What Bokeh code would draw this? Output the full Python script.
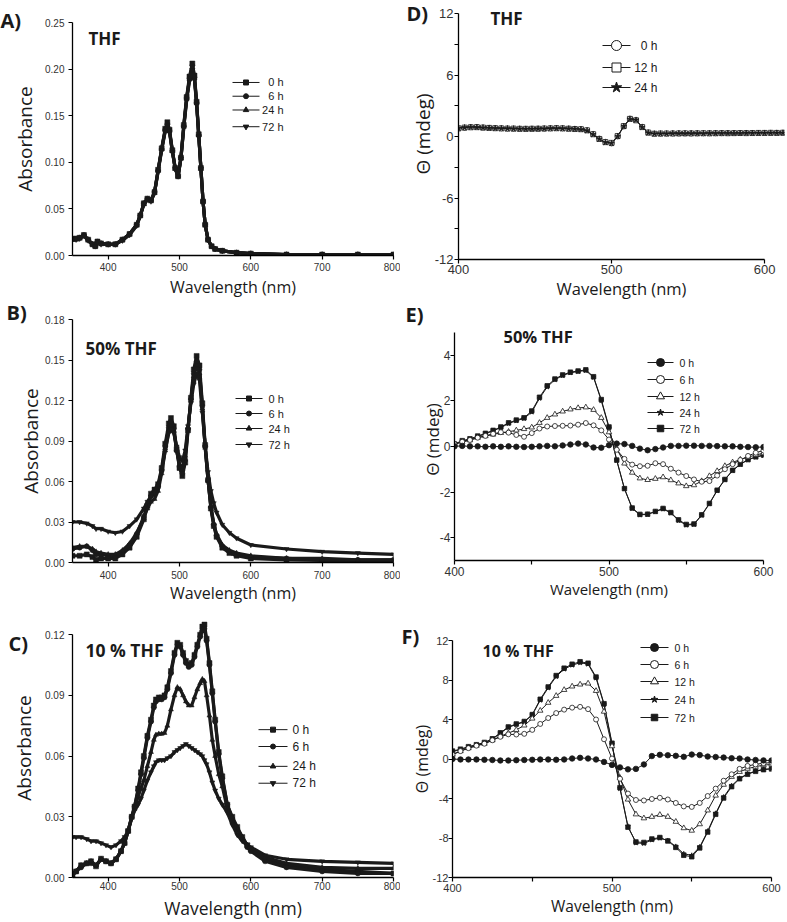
from bokeh.plotting import figure
from bokeh.layouts import row, column
from bokeh.models import Range1d, FixedTicker
from bokeh.core.properties import value
from bokeh.embed import file_html
from bokeh.resources import INLINE

# ---------------- DATA ----------------
# Panel A: UV-vis, THF
wl_A = [350, 355, 360, 366, 372, 378, 382, 385, 390, 400, 410, 420, 430, 440, 445, 450, 455, 460, 465, 470,
        475, 480, 483, 486, 490, 494, 498, 502, 506, 510, 514, 518, 521, 524, 527, 530, 533, 536, 540, 545,
        550, 560, 580, 600, 650, 700, 750, 800]
A_0h = [0.018, 0.018, 0.019, 0.022, 0.017, 0.012, 0.010, 0.015, 0.013, 0.012, 0.012, 0.017, 0.023, 0.033, 0.043, 0.056, 0.061, 0.059, 0.068, 0.092,
        0.115, 0.136, 0.143, 0.135, 0.113, 0.094, 0.085, 0.105, 0.140, 0.170, 0.192, 0.206, 0.193, 0.165, 0.130, 0.094, 0.058, 0.033, 0.017, 0.010,
        0.007, 0.005, 0.003, 0.002, 0.001, 0.001, 0.001, 0.001]
A_6h = [0.018, 0.018, 0.019, 0.022, 0.017, 0.012, 0.010, 0.015, 0.013, 0.012, 0.012, 0.017, 0.023, 0.033, 0.043, 0.056, 0.061, 0.059, 0.068, 0.091,
        0.114, 0.135, 0.141, 0.134, 0.112, 0.094, 0.085, 0.105, 0.139, 0.169, 0.190, 0.204, 0.191, 0.164, 0.129, 0.094, 0.058, 0.033, 0.017, 0.010,
        0.007, 0.005, 0.003, 0.002, 0.001, 0.001, 0.001, 0.001]
A_24h = [0.017, 0.018, 0.019, 0.021, 0.017, 0.012, 0.010, 0.014, 0.013, 0.012, 0.012, 0.017, 0.023, 0.033, 0.043, 0.055, 0.060, 0.059, 0.067, 0.091,
         0.114, 0.134, 0.140, 0.133, 0.112, 0.093, 0.085, 0.104, 0.138, 0.168, 0.189, 0.202, 0.190, 0.163, 0.129, 0.093, 0.058, 0.033, 0.017, 0.010,
         0.007, 0.005, 0.003, 0.002, 0.001, 0.001, 0.001, 0.001]
A_72h = [0.017, 0.017, 0.018, 0.021, 0.016, 0.012, 0.010, 0.014, 0.012, 0.012, 0.012, 0.016, 0.022, 0.032, 0.042, 0.055, 0.060, 0.058, 0.067, 0.090,
         0.113, 0.133, 0.139, 0.132, 0.111, 0.093, 0.085, 0.104, 0.137, 0.166, 0.187, 0.199, 0.188, 0.162, 0.128, 0.093, 0.058, 0.033, 0.017, 0.010,
         0.007, 0.005, 0.003, 0.002, 0.001, 0.001, 0.001, 0.001]

# Panel B: UV-vis, 50% THF
wl_B = [350, 360, 370, 378, 383, 390, 400, 410, 420, 430, 440, 450, 455, 460, 465, 470, 475, 480, 485, 488,
        492, 496, 500, 504, 508, 512, 516, 520, 524, 528, 532, 536, 540, 544, 548, 552, 560, 570, 580, 600,
        650, 700, 750, 800]
B_0h = [0.005, 0.005, 0.006, 0.004, 0.002, 0.003, 0.003, 0.003, 0.006, 0.011, 0.019, 0.032, 0.042, 0.051, 0.054, 0.058, 0.070, 0.088, 0.103, 0.107,
        0.101, 0.084, 0.070, 0.064, 0.074, 0.098, 0.122, 0.143, 0.153, 0.146, 0.118, 0.087, 0.061, 0.040, 0.027, 0.019, 0.011, 0.007, 0.005, 0.003,
        0.002, 0.0015, 0.001, 0.001]
B_6h = [0.010, 0.011, 0.012, 0.009, 0.006, 0.006, 0.005, 0.005, 0.008, 0.013, 0.021, 0.034, 0.043, 0.049, 0.051, 0.056, 0.068, 0.086, 0.100, 0.104,
        0.099, 0.083, 0.071, 0.066, 0.076, 0.099, 0.121, 0.140, 0.149, 0.143, 0.116, 0.086, 0.061, 0.041, 0.028, 0.020, 0.012, 0.008, 0.006, 0.004,
        0.003, 0.002, 0.002, 0.002]
B_24h = [0.011, 0.012, 0.012, 0.010, 0.008, 0.007, 0.006, 0.006, 0.009, 0.014, 0.022, 0.033, 0.040, 0.045, 0.047, 0.053, 0.066, 0.083, 0.097, 0.101,
         0.097, 0.083, 0.073, 0.069, 0.079, 0.100, 0.120, 0.138, 0.146, 0.140, 0.114, 0.085, 0.061, 0.042, 0.029, 0.021, 0.013, 0.009, 0.007, 0.005,
         0.003, 0.003, 0.002, 0.002]
B_72h = [0.030, 0.030, 0.029, 0.027, 0.025, 0.025, 0.023, 0.022, 0.023, 0.027, 0.032, 0.040, 0.045, 0.049, 0.052, 0.057, 0.068, 0.083, 0.096, 0.099,
         0.096, 0.086, 0.078, 0.075, 0.083, 0.101, 0.118, 0.132, 0.140, 0.135, 0.111, 0.086, 0.067, 0.053, 0.044, 0.037, 0.028, 0.022, 0.018, 0.013,
         0.010, 0.008, 0.007, 0.006]

# Panel C: UV-vis, 10 % THF
wl_C = [350, 355, 362, 370, 376, 383, 390, 397, 404, 411, 418, 423, 428, 433, 437, 442, 446, 450, 455, 460,
        464, 467, 471, 475, 479, 483, 488, 493, 497, 501, 505, 509, 513, 517, 521, 525, 529, 532, 535, 538,
        542, 546, 550, 555, 560, 567, 574, 581, 588, 595, 600, 620, 650, 700, 750, 800]
C_0h = [0.001, 0.003, 0.006, 0.007, 0.008, 0.0055, 0.0093, 0.008, 0.007, 0.009, 0.013, 0.017, 0.023, 0.030, 0.035, 0.044, 0.052, 0.060, 0.070, 0.078,
        0.085, 0.088, 0.089, 0.089, 0.090, 0.094, 0.102, 0.111, 0.116, 0.115, 0.111, 0.107, 0.105, 0.106, 0.110, 0.115, 0.120, 0.124, 0.125, 0.118,
        0.106, 0.092, 0.078, 0.062, 0.050, 0.036, 0.030, 0.025, 0.020, 0.016, 0.014, 0.009, 0.006, 0.004, 0.003, 0.002]
C_6h = [0.002, 0.003, 0.005, 0.007, 0.007, 0.006, 0.009, 0.008, 0.007, 0.009, 0.013, 0.017, 0.023, 0.030, 0.035, 0.043, 0.051, 0.059, 0.069, 0.077,
        0.084, 0.087, 0.088, 0.088, 0.089, 0.093, 0.101, 0.110, 0.115, 0.114, 0.110, 0.106, 0.104, 0.105, 0.109, 0.114, 0.119, 0.122, 0.123, 0.117,
        0.105, 0.091, 0.077, 0.061, 0.049, 0.036, 0.029, 0.024, 0.019, 0.015, 0.013, 0.008, 0.005, 0.003, 0.002, 0.002]
C_24h = [0.001, 0.003, 0.006, 0.007, 0.008, 0.006, 0.009, 0.008, 0.007, 0.009, 0.013, 0.017, 0.023, 0.030, 0.034, 0.040, 0.044, 0.048, 0.055, 0.062,
         0.068, 0.0705, 0.071, 0.071, 0.0714, 0.075, 0.083, 0.090, 0.094, 0.093, 0.090, 0.087, 0.085, 0.085, 0.089, 0.093, 0.096, 0.098, 0.097, 0.090,
         0.080, 0.068, 0.060, 0.051, 0.045, 0.034, 0.028, 0.024, 0.020, 0.016, 0.014, 0.010, 0.007, 0.005, 0.0045, 0.0045]
C_72h = [0.020, 0.020, 0.020, 0.019, 0.018, 0.018, 0.017, 0.016, 0.015, 0.016, 0.018, 0.020, 0.023, 0.029, 0.033, 0.036, 0.039, 0.043, 0.048, 0.052,
         0.055, 0.057, 0.058, 0.058, 0.058, 0.059, 0.060, 0.062, 0.063, 0.064, 0.065, 0.066, 0.065, 0.064, 0.063, 0.062, 0.061, 0.060, 0.058, 0.056,
         0.052, 0.047, 0.043, 0.039, 0.036, 0.032, 0.026, 0.021, 0.018, 0.016, 0.015, 0.011, 0.009, 0.008, 0.0075, 0.007]

# Panel D: CD, THF
wl_D = [400, 404, 408, 412, 416, 420, 424, 428, 432, 436, 440, 444, 448, 452, 456, 460, 464, 468, 472, 476,
        480, 484, 488, 492, 496, 500, 504, 508, 512, 516, 520, 524, 528, 532, 536, 540, 544, 548, 552, 556,
        560, 564, 568, 572, 576, 580, 584, 588, 592, 596, 600, 604, 608, 612]
D_0h = [0.78, 0.85, 0.92, 0.93, 0.88, 0.85, 0.82, 0.80, 0.78, 0.77, 0.76, 0.75, 0.75, 0.76, 0.77, 0.80, 0.82, 0.80, 0.77, 0.74,
        0.72, 0.62, 0.25, -0.20, -0.52, -0.68, 0.00, 0.98, 1.75, 1.60, 0.95, 0.40, 0.28, 0.28, 0.29, 0.30, 0.30, 0.30, 0.30, 0.31,
        0.31, 0.32, 0.32, 0.32, 0.33, 0.33, 0.33, 0.34, 0.34, 0.34, 0.35, 0.35, 0.36, 0.36]
D_12h = [0.80, 0.87, 0.90, 0.91, 0.87, 0.84, 0.81, 0.79, 0.77, 0.77, 0.75, 0.75, 0.76, 0.76, 0.78, 0.79, 0.81, 0.79, 0.76, 0.73,
         0.71, 0.60, 0.22, -0.24, -0.55, -0.62, 0.05, 1.02, 1.72, 1.58, 0.92, 0.38, 0.27, 0.29, 0.29, 0.29, 0.30, 0.31, 0.30, 0.31,
         0.32, 0.31, 0.32, 0.33, 0.32, 0.33, 0.34, 0.33, 0.34, 0.35, 0.35, 0.36, 0.35, 0.37]
D_24h = [0.82, 0.88, 0.91, 0.90, 0.86, 0.83, 0.81, 0.79, 0.78, 0.76, 0.75, 0.74, 0.75, 0.76, 0.77, 0.79, 0.80, 0.78, 0.76, 0.74,
         0.70, 0.58, 0.20, -0.25, -0.58, -0.65, 0.02, 1.00, 1.70, 1.62, 0.90, 0.36, 0.27, 0.28, 0.28, 0.30, 0.30, 0.30, 0.31, 0.31,
         0.31, 0.32, 0.32, 0.33, 0.33, 0.33, 0.33, 0.34, 0.34, 0.34, 0.34, 0.35, 0.35, 0.36]

# Panels E and F: CD, 50% THF and 10 % THF
wl_EF = [400, 405, 410, 415, 420, 425, 430, 435, 440, 445, 450, 455, 460, 465, 470, 475, 480, 485, 490, 495,
         500, 505, 510, 515, 520, 525, 530, 535, 540, 545, 550, 555, 560, 565, 570, 575, 580, 585, 590, 595, 600]
E_0h = [0.00, 0.02, 0.00, 0.00, -0.02, 0.00, -0.02, 0.00, -0.02, -0.03, -0.02, 0.00, 0.02, 0.00, 0.04, 0.08, 0.12, 0.08, -0.05, -0.06,
        0.05, 0.12, 0.10, 0.02, -0.10, -0.17, -0.12, -0.05, 0.02, 0.02, 0.03, 0.03, 0.02, 0.02, 0.01, 0.00, 0.00, -0.02, -0.03, -0.04, -0.03]
E_6h = [0.10, 0.20, 0.28, 0.38, 0.46, 0.55, 0.62, 0.60, 0.50, 0.42, 0.58, 0.78, 0.87, 0.89, 0.90, 0.91, 0.95, 1.02, 0.92, 0.70,
        0.30, -0.15, -0.55, -0.80, -0.87, -0.85, -0.74, -0.78, -0.98, -1.15, -1.30, -1.45, -1.55, -1.52, -1.28, -1.00, -0.78, -0.60, -0.42, -0.28, -0.18]
E_12h = [0.10, 0.20, 0.27, 0.38, 0.45, 0.52, 0.59, 0.64, 0.70, 0.76, 0.83, 1.03, 1.25, 1.40, 1.53, 1.62, 1.68, 1.71, 1.60, 1.25,
         0.62, -0.10, -0.75, -1.15, -1.40, -1.47, -1.42, -1.35, -1.48, -1.62, -1.74, -1.70, -1.52, -1.30, -1.08, -0.86, -0.70, -0.58, -0.47, -0.38, -0.30]
E_24h = [0.08, 0.22, 0.30, 0.42, 0.55, 0.68, 0.82, 1.00, 1.12, 1.22, 1.50, 2.10, 2.60, 2.92, 3.10, 3.22, 3.28, 3.32, 3.02, 2.00,
         0.80, -0.62, -1.86, -2.72, -3.00, -2.98, -2.86, -2.74, -2.92, -3.25, -3.45, -3.42, -3.02, -2.52, -1.94, -1.46, -1.06, -0.79, -0.59, -0.47, -0.40]
E_72h = [0.10, 0.25, 0.33, 0.45, 0.57, 0.70, 0.85, 1.03, 1.15, 1.25, 1.55, 2.15, 2.65, 2.95, 3.13, 3.25, 3.30, 3.35, 3.05, 2.05,
         0.85, -0.60, -1.85, -2.70, -2.98, -2.97, -2.85, -2.72, -2.90, -3.22, -3.42, -3.40, -3.00, -2.50, -1.92, -1.45, -1.05, -0.78, -0.58, -0.46, -0.38]

F_0h = [0.00, -0.05, -0.05, -0.05, -0.08, -0.10, -0.15, -0.15, -0.12, -0.10, -0.08, -0.05, -0.05, -0.08, -0.05, 0.05, 0.12, 0.05, -0.05, -0.30,
        -0.60, -0.85, -1.05, -1.00, -0.55, 0.30, 0.42, 0.38, 0.32, 0.22, 0.45, 0.40, 0.25, 0.20, 0.15, 0.08, 0.05, -0.05, -0.10, -0.14, -0.15]
F_6h = [0.45, 0.80, 1.10, 1.35, 1.55, 1.90, 2.25, 2.50, 2.48, 2.55, 2.95, 3.55, 4.15, 4.65, 5.00, 5.20, 5.28, 5.05, 4.00, 2.00,
        0.05, -2.00, -3.50, -4.15, -4.20, -4.05, -3.93, -4.10, -4.45, -4.80, -4.85, -4.45, -3.75, -3.00, -2.20, -1.55, -1.00, -0.70, -0.55, -0.42, -0.37]
F_12h = [0.45, 0.80, 1.10, 1.35, 1.55, 1.90, 2.30, 2.62, 2.95, 3.40, 4.10, 4.90, 5.70, 6.40, 7.00, 7.35, 7.55, 7.65, 6.90, 4.80,
         1.30, -1.90, -4.10, -5.60, -6.00, -5.85, -5.65, -5.85, -6.35, -7.00, -7.25, -6.60, -5.20, -3.70, -2.60, -1.80, -1.30, -0.98, -0.78, -0.62, -0.55]
F_24h = [0.75, 0.95, 1.20, 1.42, 1.65, 2.00, 2.60, 3.20, 3.50, 3.75, 4.45, 5.95, 7.20, 8.35, 9.10, 9.50, 9.75, 9.60, 8.20, 5.50,
         1.50, -3.00, -6.80, -8.50, -8.55, -8.20, -8.00, -8.25, -8.85, -9.60, -9.75, -8.90, -7.30, -5.50, -3.85, -2.70, -1.95, -1.50, -1.22, -1.05, -0.98]
F_72h = [0.80, 1.00, 1.25, 1.45, 1.68, 2.05, 2.65, 3.25, 3.55, 3.80, 4.50, 6.05, 7.30, 8.45, 9.20, 9.60, 9.85, 9.70, 8.30, 5.60,
         1.60, -2.90, -6.90, -8.40, -8.45, -8.10, -7.95, -8.30, -8.95, -9.75, -9.90, -9.00, -7.40, -5.60, -3.95, -2.80, -2.00, -1.55, -1.25, -1.08, -1.00]

# Ticks and labels
uv_x_ticks = [400, 500, 600, 700, 800]
uv_x_labels = ["400", "500", "600", "700", "800"]
A_y_ticks = [0.0, 0.05, 0.10, 0.15, 0.20, 0.25]
A_y_labels = ["0.00", "0.05", "0.10", "0.15", "0.20", "0.25"]
B_y_ticks = [0.0, 0.03, 0.06, 0.09, 0.12, 0.15, 0.18]
B_y_labels = ["0.00", "0.03", "0.06", "0.09", "0.12", "0.15", "0.18"]
C_y_ticks = [0.0, 0.03, 0.06, 0.09, 0.12]
C_y_labels = ["0.00", "0.03", "0.06", "0.09", "0.12"]
D_x_ticks = [400, 500, 600]
D_x_labels = ["400", "500", "600"]
D_y_ticks = [-12, -9, -6, -3, 0, 3, 6, 9, 12]
D_y_labels = ["-12", "", "-6", "", "0", "", "6", "", "12"]
EF_x_ticks = [400, 450, 500, 550, 600]
EF_x_labels = ["400", "", "500", "", "600"]
E_y_ticks = [-4, -2, 0, 2, 4]
E_y_labels = ["-4", "-2", "0", "2", "4"]
F_y_ticks = [-12, -8, -4, 0, 4, 8, 12]
F_y_labels = ["-12", "-8", "-4", "0", "4", "8", "12"]

uv_names = ["0 h", "6 h", "24 h", "72 h"]
D_names = ["0 h", "12 h", "24 h"]
EF_names = ["0 h", "6 h", "12 h", "24 h", "72 h"]

# ---------------- STYLE / LAYOUT ----------------
INK = "#1a1a1a"
SANS = "Open Sans"
TICKF = "Liberation Sans"


class Panel:
    def __init__(self, fig_box, frame_box, xr, yr):
        fx, fy, fw, fh = fig_box
        l, t, r, b = frame_box
        self.l, self.t, self.r, self.b = l, t, r, b
        self.xr, self.yr = xr, yr
        self.p = figure(width=fw, height=fh, x_range=Range1d(*xr), y_range=Range1d(*yr),
                        output_backend="svg", toolbar_location=None,
                        min_border_left=l - fx, min_border_right=fx + fw - r,
                        min_border_top=t - fy, min_border_bottom=fy + fh - b)
        p = self.p
        p.grid.visible = False
        p.outline_line_color = None
        p.background_fill_color = "white"
        p.border_fill_color = "white"

    def dx(self, px):
        return self.xr[0] + (px - self.l) * (self.xr[1] - self.xr[0]) / (self.r - self.l)

    def dy(self, py):
        return self.yr[0] + (self.b - py) * (self.yr[1] - self.yr[0]) / (self.b - self.t)

    def axes(self, xt, xl, yt, yl, tick_px, xlab, ylab, xlab_px, ylab_px,
             x_lstand, x_stand, y_lstand, y_stand, xbounds=None, ybounds=None):
        p = self.p
        for ax in (p.xaxis[0], p.yaxis[0]):
            ax.axis_line_color = "black"
            ax.axis_line_width = 1.3
            ax.major_tick_line_color = "black"
            ax.major_tick_line_width = 1.2
            ax.major_tick_in = 0
            ax.major_tick_out = 4
            ax.minor_tick_line_color = None
            ax.major_label_text_font = TICKF
            ax.major_label_text_font_size = f"{tick_px}px"
            ax.major_label_text_color = "#333333"
            ax.axis_label_text_font = SANS
            ax.axis_label_text_font_style = "normal"
            ax.axis_label_text_color = INK
        p.xaxis[0].ticker = FixedTicker(ticks=xt)
        p.xaxis[0].major_label_overrides = {k: v for k, v in zip(xt, xl)}
        p.yaxis[0].ticker = FixedTicker(ticks=yt)
        p.yaxis[0].major_label_overrides = {k: v for k, v in zip(yt, yl)}
        if xbounds is not None:
            p.xaxis[0].bounds = xbounds
        if ybounds is not None:
            p.yaxis[0].bounds = ybounds
        p.xaxis[0].axis_label = xlab
        p.yaxis[0].axis_label = ylab
        p.xaxis[0].axis_label_text_font_size = f"{xlab_px}px"
        p.yaxis[0].axis_label_text_font_size = f"{ylab_px}px"
        p.xaxis[0].major_label_standoff = x_lstand
        p.xaxis[0].axis_label_standoff = x_stand
        p.yaxis[0].major_label_standoff = y_lstand
        p.yaxis[0].axis_label_standoff = y_stand

    def text(self, px, py, s, size):
        # py is the wanted baseline; text is centred on the em box (0.388 em above baseline)
        self.p.text(x=[self.dx(px)], y=[self.dy(py - 0.388 * size)], text=[s],
                    text_font=value(SANS), text_font_size=value(f"{size}px"),
                    text_font_style="bold", text_color=INK, text_align="left",
                    text_baseline="middle")

    def letter(self, s, px_left, standoff, valign="bottom", size=20):
        t = self.p.title
        t.text = s
        t.align = "left"
        t.offset = px_left - self.l
        t.standoff = standoff
        t.vertical_align = valign
        t.text_font = SANS
        t.text_font_size = f"{size}px"
        t.text_font_style = "bold"
        t.text_color = INK

    def legend(self, rows, gx0, gx1, tx, ys, font_px, align="left"):
        p = self.p
        yy = [self.dy(v) for v in ys]
        n = len(rows)
        p.segment(x0=[self.dx(gx0)] * n, y0=yy, x1=[self.dx(gx1)] * n, y1=yy, line_color=INK, line_width=1)
        for (name, marker, size, fill), y in zip(rows, yy):
            p.scatter(x=[self.dx((gx0 + gx1) / 2)], y=[y], marker=marker, size=size,
                      fill_color=fill, line_color=INK, line_width=1)
        p.text(x=[self.dx(tx)] * n, y=yy, text=[r[0] for r in rows], text_font=value(TICKF),
               text_font_size=value(f"{font_px}px"), text_baseline="middle", text_align=align,
               text_color=INK)


def uv_series(pn, x, ys, size=5):
    markers = ["square", "circle", "triangle", "inverted_triangle"]
    for y, m in zip(ys, markers):
        pn.p.line(x, y, line_color=INK, line_width=3.2)
        pn.p.scatter(x, y, marker=m, size=size, fill_color=INK, line_color=INK, line_width=0.5)


uv_leg = lambda: [(uv_names[0], "square", 5, INK), (uv_names[1], "circle", 5, INK),
                  (uv_names[2], "triangle", 5.5, INK), (uv_names[3], "inverted_triangle", 5.5, INK)]

# ---- Panel A ----
pa = Panel((0, 0, 400, 300), (72, 22, 393, 259), (350, 800), (0, 0.25))
pa.axes(uv_x_ticks, uv_x_labels, A_y_ticks, A_y_labels, 10, "Wavelength (nm)", "Absorbance", 16, 19, 3, 2, 4, 4)
uv_series(pa, wl_A, [A_0h, A_6h, A_24h, A_72h])
pa.legend(uv_leg(), 232, 259, 283, [83, 97, 111, 128], 11, align="right")
pa.letter("A)", 0, -23)
pa.text(88, 45, "THF", 17)

# ---- Panel B ----
pb = Panel((0, 300, 400, 306), (72, 319, 393, 562), (350, 800), (0, 0.18))
pb.axes(uv_x_ticks, uv_x_labels, B_y_ticks, B_y_labels, 10, "Wavelength (nm)", "Absorbance", 16, 19, 4, 0, 4, -2)
uv_series(pb, wl_B, [B_0h, B_6h, B_24h, B_72h])
pb.legend(uv_leg(), 235, 262, 268, [398, 413, 428, 444], 11)
pb.letter("B)", 6, -13)
pb.text(85, 355, "50% THF", 17)

# ---- Panel C (y frame extends a little above the 0.12 axis end, as in the original) ----
pc = Panel((0, 606, 400, 316), (72, 618, 393, 879), (350, 800), (0, 0.128))
pc.axes(uv_x_ticks, uv_x_labels, C_y_ticks, C_y_labels, 10, "Wavelength (nm)", "Absorbance", 17.5, 19, 0, 3, 4, 5,
        ybounds=(0, 0.12))
uv_series(pc, wl_C, [C_0h, C_6h, C_24h, C_72h])
pc.legend(uv_leg(), 258, 287, 292, [730, 747, 767, 784], 12)
pc.letter("C)", 8, -77)
pc.text(85, 657, "10 % THF", 17.5)

# ---- Panel D (data run slightly past the 600 axis end; frame reaches a bit above 12) ----
pd_ = Panel((400, 0, 387, 302), (458, 8, 784, 259), (400, 613), (-12, 12.49))
pd_.axes(D_x_ticks, D_x_labels, D_y_ticks, D_y_labels, 13, "Wavelength (nm)", "\u0398 (mdeg)", 16.5, 19, 1, 0, 1, -4,
         xbounds=(400, 600), ybounds=(-12, 12))
for y, m, s, f in [(D_0h, "circle", 5, "white"), (D_12h, "square", 5, "white"), (D_24h, "star", 6, INK)]:
    pd_.p.line(wl_D, y, line_color=INK, line_width=1)
    pd_.p.scatter(wl_D, y, marker=m, size=s, fill_color=f, line_color=INK, line_width=0.8)
pd_.legend([(D_names[0], "circle", 10, "white"), (D_names[1], "square", 9, "white"), (D_names[2], "star", 11, INK)],
           602, 630, 657, [45, 67, 87], 12, align="right")
pd_.letter("D)", 406, -37)
pd_.text(490, 25, "THF", 17)

# ---- Panel E (frame reaches a bit above the axis end at 5) ----
EF_specs = [("circle", 5.5, INK), ("circle", 5, "white"), ("triangle", 5.5, "white"), ("star", 5, INK), ("square", 4.5, INK)]
EF_leg = [("circle", 8, INK), ("circle", 8, "white"), ("triangle", 8, "white"), ("star", 7, INK), ("square", 6.5, INK)]

pe = Panel((400, 302, 387, 304), (454, 318, 763, 560), (400, 600), (-5, 5.6))
pe.axes(EF_x_ticks, EF_x_labels, E_y_ticks, E_y_labels, 12, "Wavelength (nm)", "\u0398 (mdeg)", 15, 17, 2, 0, 0, -7,
        ybounds=(-5, 5))
for y, (m, s, f) in zip([E_72h, E_24h, E_12h, E_6h, E_0h], EF_specs[::-1]):
    pe.p.line(wl_EF, y, line_color=INK, line_width=1)
    pe.p.scatter(wl_EF, y, marker=m, size=s, fill_color=f, line_color=INK, line_width=0.8)
pe.legend([(n, m, s, f) for n, (m, s, f) in zip(EF_names, EF_leg)], 647, 673, 679,
          [362, 379, 396, 412, 428], 10.5)
pe.letter("E)", 405, -19)
pe.text(503, 342, "50% THF", 16.5)

# ---- Panel F ----
pf = Panel((400, 606, 387, 316), (452, 640, 771, 877), (400, 600), (-12, 12))
pf.axes(EF_x_ticks, EF_x_labels, F_y_ticks, F_y_labels, 11, "Wavelength (nm)", "\u0398 (mdeg)", 15.5, 16, 2, 0, 0, -3)
for y, (m, s, f) in zip([F_72h, F_24h, F_12h, F_6h, F_0h], EF_specs[::-1]):
    pf.p.line(wl_EF, y, line_color=INK, line_width=1)
    pf.p.scatter(wl_EF, y, marker=m, size=s, fill_color=f, line_color=INK, line_width=0.8)
pf.legend([(n, m, s, f) for n, (m, s, f) in zip(EF_names, EF_leg)], 640, 668, 674,
          [647, 664, 681, 699, 717], 10.5)
pf.letter("F)", 401, -18)
pf.text(482, 657, "10 % THF", 16)

layout = row(column(column(pa.p), column(pb.p), column(pc.p)),
             column(column(pd_.p), column(pe.p), column(pf.p)))
open("out.html", "w").write(file_html(layout, INLINE))
